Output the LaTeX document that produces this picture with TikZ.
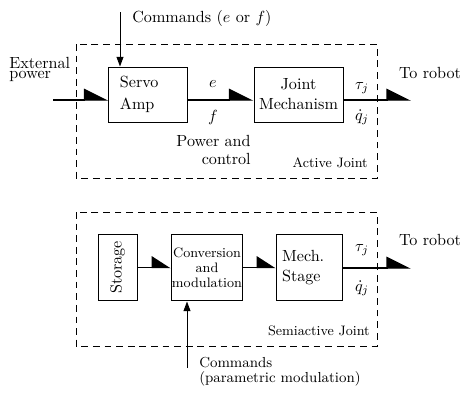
\documentclass[tikz,border=0pt]{standalone}
\usepackage{graphicx}
\usetikzlibrary{arrows.meta}
\tikzset{
  blk/.style={draw, line width=0.6pt, inner sep=0pt, minimum height=34.1pt, font=\fontsize{10}{12.4}\selectfont},
  blk2/.style={draw, line width=0.6pt, inner sep=0pt, minimum height=41.5pt},
  frame/.style={draw, line width=0.6pt, dash pattern=on 4.2pt off 3pt},
  conn/.style={line width=0.9pt},
  harp/.style={conn, -{Triangle[harpoon, length=14.3pt, width=14pt]}},
  harpshort/.style={conn, -{Triangle[harpoon, length=11pt, width=14pt]}},
  cmd/.style={line width=0.6pt, -{Triangle[length=6pt, width=4.3pt]}},
  lbl/.style={inner sep=0pt, font=\fontsize{10}{12}\selectfont},
  smalllbl/.style={inner sep=0pt, font=\fontsize{8.5}{10}\selectfont},
}
\begin{document}
\begin{tikzpicture}[x=0.62pt, y=-0.62pt]
\useasboundingbox (0,0) rectangle (460,392);

% ---------- Active joint ----------
\draw[frame] (76,44) rectangle (377,178);
\node[blk, minimum width=48.4pt, text width=34.8pt, align=left, font=\fontsize{10}{14}\selectfont] (servo) at (148,94.5) {Servo\\Amp};
\node[blk, minimum width=55.2pt, align=center] (jm) at (298.5,94.5) {Joint\\Mechanism};

\coordinate (ep) at (53,100);
\coordinate (r1) at (411,100);
\coordinate (c1) at (120,12);

\draw[harp] (ep) -- (ep -| servo.west);
\draw[harp] (ep -| servo.east) -- (ep -| jm.west);
\draw[harp] (r1 -| jm.east) -- (r1);
\draw[cmd] (c1) -- (c1 |- servo.north);

\node[lbl, anchor=base west] (cmdtxt) at (132,22) {Commands ($e$ or $f$)};
\node[lbl, anchor=north west, align=left, font=\fontsize{10}{6}\selectfont] (ext) at (9,57) {External\\power};
\node[lbl] (e) at (213,84) {$e$};
\node[lbl] (f) at (213,117) {$f$};
\node[lbl, anchor=north east, align=right, font=\fontsize{10}{11.2}\selectfont] (pc) at (251,135) {Power and\\control};
\node[lbl] (tau1) at (362,88) {$\tau_j$};
\node[lbl] (qd1) at (362,117) {$\dot{q}_j$};
\node[lbl] (tr1) at (430,73) {To robot};
\node[smalllbl, anchor=base east] (aj) at (368,167) {Active Joint};

% ---------- Semiactive joint ----------
\draw[frame] (76,212) rectangle (377,346);
\node[blk2, minimum width=24.2pt, font=\fontsize{10}{12}\selectfont] (st) at (117.5,267.5) {\rotatebox{90}{Storage}};
\node[blk2, minimum width=44.6pt, align=center, font=\fontsize{8.5}{9.3}\selectfont] (cv) at (207,267.5) {Conversion\\and\\modulation};
\node[blk2, minimum width=41.5pt, text width=34pt, align=left, font=\fontsize{10}{12.4}\selectfont] (ms) at (309.5,267.5) {Mech.\\Stage};

\coordinate (r2) at (411,268);
\coordinate (c2) at (187,368);

\draw[harpshort] (st.east) -- (cv.west);
\draw[harpshort] (cv.east) -- (ms.west);
\draw[harp] (r2 -| ms.east) -- (r2);
\draw[cmd] (c2) -- (c2 |- cv.south);

\node[lbl] (tau2) at (362,250) {$\tau_j$};
\node[lbl] (qd2) at (362,288) {$\dot{q}_j$};
\node[lbl] (tr2) at (430,240) {To robot};
\node[smalllbl, anchor=base east] (sj) at (370,335) {Semiactive Joint};
\node[lbl, anchor=north west, align=left, font=\fontsize{9}{9.5}\selectfont] (cmd2) at (199,357) {Commands\\(parametric modulation)};
\end{tikzpicture}
\end{document}
